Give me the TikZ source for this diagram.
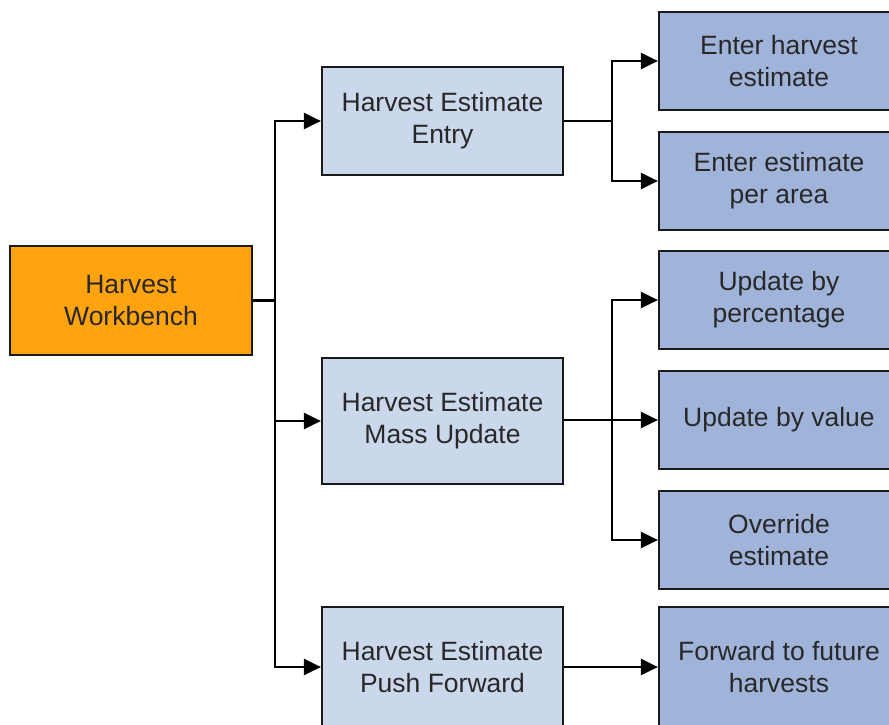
\documentclass[tikz,border=0pt]{standalone}
\usepackage{fontspec}
\setmainfont{Liberation Sans}
\usetikzlibrary{arrows.meta}
\definecolor{wborange}{RGB}{255,163,15}
\definecolor{midblue}{RGB}{203,215,235}
\definecolor{taskblue}{RGB}{160,180,218}
\definecolor{txtgray}{RGB}{40,40,40}
\tikzset{
  box/.style={draw=black!90,line width=2.2pt,inner sep=0pt,align=center,
    text=txtgray,font=\fontsize{26.5}{32}\selectfont},
  topbox/.style={box,fill=wborange,minimum width=242,minimum height=109},
  midbox/.style={box,fill=midblue,minimum width=241},
  taskbox/.style={box,fill=taskblue,minimum width=240,minimum height=98},
  link/.style={line width=2.4pt,black},
  arr/.style={link,-{Triangle[length=17pt,width=16pt]}}
}
\begin{document}
\begin{tikzpicture}[x=1pt,y=-1pt]
\useasboundingbox (0,0) rectangle (889,724);
\clip (0,0) rectangle (889,724);

\node[topbox] (wb) at (131,300.5) {Harvest\\Workbench};

\node[midbox,minimum height=108] (entry) at (442.5,121) {Harvest Estimate\\Entry};
\node[midbox,minimum height=126] (mass) at (442.5,421) {Harvest Estimate\\Mass Update};
\node[midbox,minimum height=120] (push) at (442.5,667) {Harvest Estimate\\Push Forward};

\node[taskbox] (est) at (779,61) {Enter harvest\\estimate};
\node[taskbox] (area) at (779,181) {Enter estimate\\per area};
\node[taskbox] (pct) at (779,300) {Update by\\percentage};
\node[taskbox] (val) at (779,420) {Update by value};
\node[taskbox] (over) at (779,540) {Override\\estimate};
\node[taskbox,minimum height=120] (fwd) at (779,667) {Forward to future\\harvests};

% left bus
\coordinate (lbus) at (275,300.5);
\draw[link] (wb.east) -- (lbus);
\foreach \n in {entry,mass,push}
  \draw[arr] (lbus) |- (\n.west);

% entry tasks
\coordinate (rbus1) at (612,121);
\draw[link] (entry.east) -- (rbus1);
\foreach \n in {est,area}
  \draw[arr] (rbus1) |- (\n.west);

% mass update tasks
\coordinate (rbus2) at (612,420);
\draw[arr] (mass.east |- val.west) -- (val.west);
\foreach \n in {pct,over}
  \draw[arr] (rbus2) |- (\n.west);

% push forward
\draw[arr] (push.east |- fwd.west) -- (fwd.west);
\end{tikzpicture}
\end{document}
